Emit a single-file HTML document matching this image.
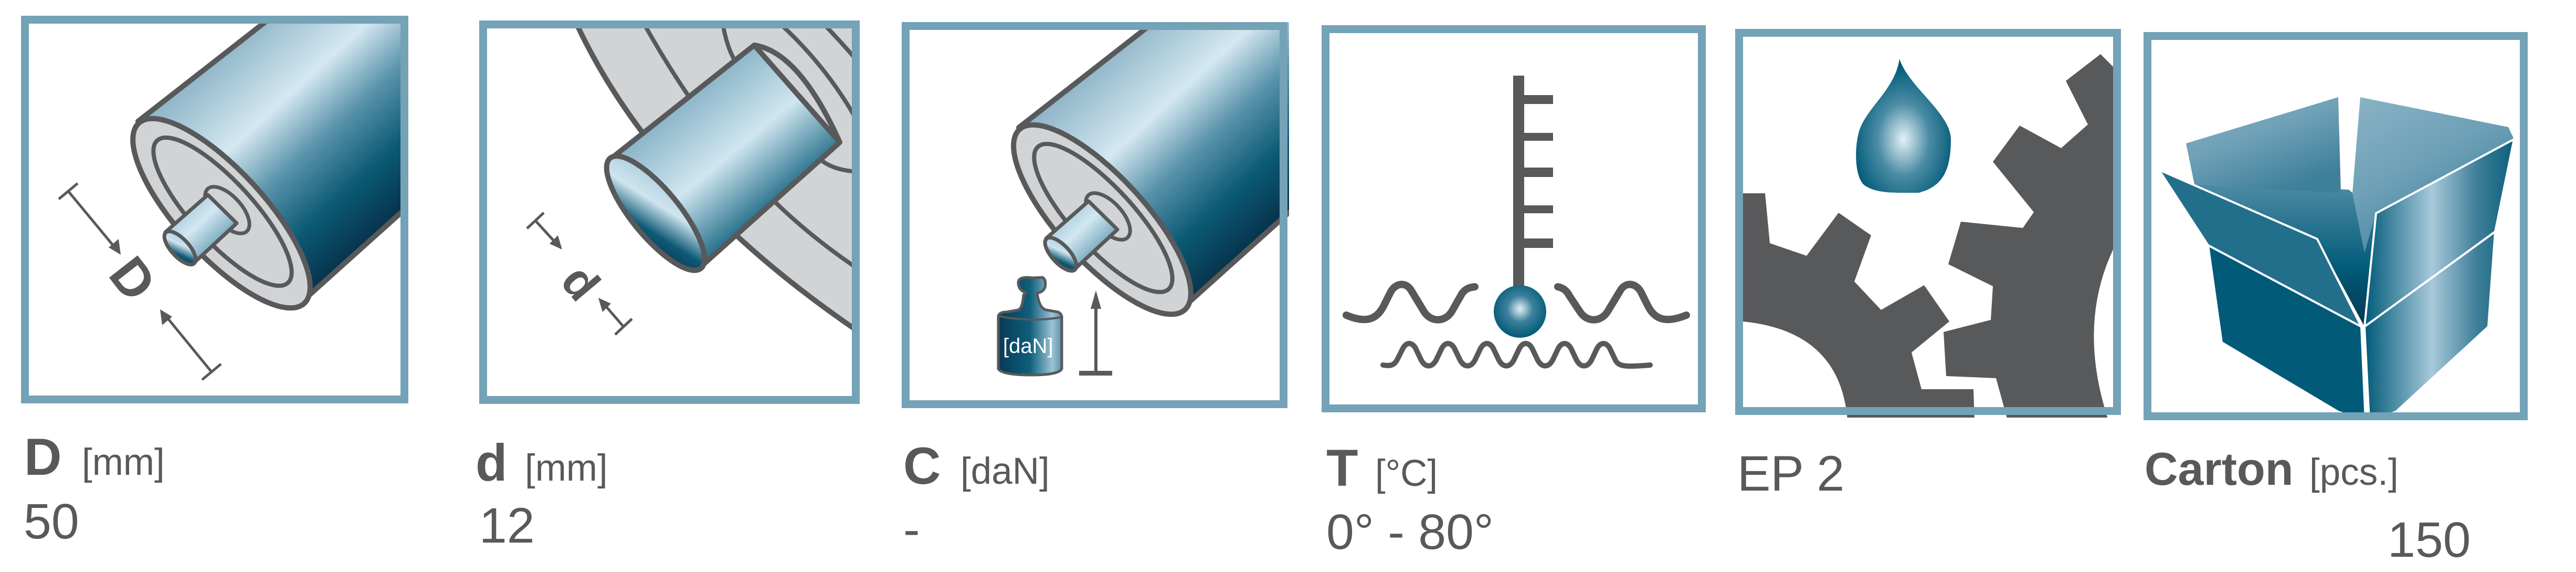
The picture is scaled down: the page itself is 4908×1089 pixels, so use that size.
<!DOCTYPE html>
<html><head><meta charset="utf-8"><style>
html,body{margin:0;padding:0;background:#fff;}
svg{display:block;}
text{font-family:"Liberation Sans",sans-serif;fill:#58595b;}
</style></head><body>
<svg width="4908" height="1089" viewBox="0 0 4908 1089" xmlns="http://www.w3.org/2000/svg">
<defs>
<linearGradient id="body" gradientUnits="userSpaceOnUse" x1="225" y1="205" x2="540" y2="548">
<stop offset="0" stop-color="#8db4c7"/><stop offset="0.33" stop-color="#d4e8f1"/><stop offset="0.55" stop-color="#5a93ab"/><stop offset="0.78" stop-color="#0b5a75"/><stop offset="1" stop-color="#07314a"/></linearGradient>
<linearGradient id="shaft" x1="0" y1="0" x2="1" y2="1">
<stop offset="0" stop-color="#7fb0c6"/><stop offset="0.45" stop-color="#d2e7f2"/><stop offset="1" stop-color="#1f6d89"/></linearGradient>
<linearGradient id="hole" x1="0" y1="0" x2="1" y2="1">
<stop offset="0" stop-color="#9fc6d8"/><stop offset="0.4" stop-color="#cfe4ef"/><stop offset="0.7" stop-color="#0f5a76"/><stop offset="1" stop-color="#062f48"/></linearGradient>
<linearGradient id="sh2" gradientUnits="userSpaceOnUse" x1="390" y1="155" x2="560" y2="360">
<stop offset="0" stop-color="#8cb6c9"/><stop offset="0.5" stop-color="#d0e6f0"/><stop offset="1" stop-color="#1d6a86"/></linearGradient>
<linearGradient id="wt" x1="0" y1="0" x2="1" y2="0">
<stop offset="0" stop-color="#073a55"/><stop offset="0.5" stop-color="#0f5f7c"/><stop offset="0.85" stop-color="#9cc3d6"/><stop offset="1" stop-color="#5a8ea6"/></linearGradient>
<radialGradient id="ball" cx="0.5" cy="0.45" r="0.55"><stop offset="0" stop-color="#e4f1f7"/><stop offset="0.45" stop-color="#3d819c"/><stop offset="1" stop-color="#005a78"/></radialGradient>
<radialGradient id="drop" cx="0.5" cy="0.6" r="0.55"><stop offset="0" stop-color="#e4f1f7"/><stop offset="0.5" stop-color="#4a8ba4"/><stop offset="1" stop-color="#005a78"/></radialGradient>
<linearGradient id="bflap" x1="0" y1="0" x2="0.6" y2="1"><stop offset="0" stop-color="#8ab3c6"/><stop offset="0.5" stop-color="#6da0b6"/><stop offset="1" stop-color="#3e7f99"/></linearGradient>
<linearGradient id="inner" x1="0" y1="0" x2="0" y2="1"><stop offset="0" stop-color="#4d8ba5"/><stop offset="0.6" stop-color="#005a78"/><stop offset="1" stop-color="#063651"/></linearGradient>
<linearGradient id="rface" gradientUnits="userSpaceOnUse" x1="421" y1="0" x2="706" y2="0"><stop offset="0" stop-color="#005a78"/><stop offset="0.45" stop-color="#a7c9da"/><stop offset="0.75" stop-color="#3f7f99"/><stop offset="1" stop-color="#0b5f7c"/></linearGradient>
<clipPath id="c1"><rect x="0" y="0" width="738" height="738"/></clipPath>
<clipPath id="c2"><rect x="0" y="0" width="725" height="730"/></clipPath>
<clipPath id="c5"><rect x="0" y="0" width="735" height="740"/></clipPath>
<g id="roller">
<polygon points="223,201 469,9 760,-220 1100,100 735,365 540,540" fill="url(#body)" stroke="#58595b" stroke-width="10" stroke-linejoin="round"/>
<ellipse cx="382" cy="376" rx="233" ry="82" transform="rotate(47.4 382 376)" fill="#d2d3d5" stroke="#58595b" stroke-width="10"/>
<ellipse cx="384" cy="373" rx="184" ry="58" transform="rotate(47.4 384 373)" fill="none" stroke="#58595b" stroke-width="8"/>
<ellipse cx="393" cy="370" rx="55" ry="27" transform="rotate(47.4 393 370)" fill="#d2d3d5" stroke="#58595b" stroke-width="7"/>
<polygon points="275,412 356,341 411,395 330,470" fill="url(#shaft)" stroke="#58595b" stroke-width="7" stroke-linejoin="round"/>
<ellipse cx="303" cy="442" rx="40" ry="17" transform="rotate(47.4 303 442)" fill="url(#hole)" stroke="#58595b" stroke-width="7"/>
</g>
<g id="arrowhead"><polygon points="0,0 -12,-30 12,-30" fill="#58595b"/></g>
</defs>

<!-- Box 1 -->
<g transform="translate(40,30)">
<g clip-path="url(#c1)"><use href="#roller"/></g>
<g stroke="#58595b" stroke-width="5" fill="none">
<line x1="90" y1="334" x2="182" y2="445"/><line x1="72" y1="349" x2="108" y2="319"/>
<line x1="273" y1="568" x2="363" y2="678"/><line x1="345" y1="693" x2="381" y2="663"/>
</g>
<polygon points="190,455 167,441 186,425" fill="#58595b"/>
<polygon points="265,559 288,573 269,589" fill="#58595b"/>
<text x="0" y="0" font-size="100" font-weight="bold" transform="translate(213,498) rotate(52) translate(-34,36)">D</text>
<rect x="7.5" y="7.5" width="723" height="723" fill="none" stroke="#74a2b7" stroke-width="15"/>
</g>

<!-- Box 2 -->
<g transform="translate(913,39)">
<g clip-path="url(#c2)">
<path d="M178,-10 Q330,330 740,604 L740,-10 Z" fill="#d2d3d5" stroke="#58595b" stroke-width="10"/>
<path d="M305,-10 Q420,200 562,344 Q640,420 740,485" fill="none" stroke="#58595b" stroke-width="8"/>
<path d="M462,-10 Q470,60 500,95 L640,255 Q670,290 740,288" fill="none" stroke="#58595b" stroke-width="8"/>
<path d="M640,-10 Q690,40 740,100" fill="none" stroke="#58595b" stroke-width="8"/>
<path d="M555,-10 Q660,80 725,200" fill="none" stroke="#58595b" stroke-width="8"/>
<polygon points="251,263 524,47 687,232 422,469" fill="url(#sh2)" stroke="#58595b" stroke-width="10" stroke-linejoin="round"/>
<path d="M524,47 Q610,60 687,232" fill="none" stroke="#58595b" stroke-width="10"/>
<ellipse cx="336" cy="367" rx="136" ry="45" transform="rotate(50.5 336 367)" fill="url(#hole)" stroke="#58595b" stroke-width="10"/>
</g>
<g stroke="#58595b" stroke-width="5" fill="none">
<line x1="107" y1="381" x2="150" y2="428"/><line x1="91" y1="396" x2="123" y2="366"/>
<line x1="237" y1="539" x2="275" y2="583"/><line x1="259" y1="598" x2="291" y2="568"/>
</g>
<polygon points="158,436 134,425 150,409" fill="#58595b"/>
<polygon points="227,528 251,539 235,555" fill="#58595b"/>
<text x="0" y="0" font-size="90" font-weight="bold" transform="translate(194,498) rotate(50) translate(-27,32)">d</text>
<rect x="7.5" y="7.5" width="710" height="715" fill="none" stroke="#74a2b7" stroke-width="15"/>
</g>

<!-- Box 3 -->
<g transform="translate(1718,42)">
<g clip-path="url(#c1)"><use href="#roller"/></g>
<path d="M184,560 Q186,552 200,552 L222,548 Q230,545 232,520 L236,515 Q222,510 222,496 Q222,486 240,486 L250,487 L268,486 Q276,490 273,505 Q270,514 258,516 Q262,545 275,548 L298,552 Q306,556 305,565 L305,660 Q300,672 245,672 Q190,672 184,660 Z" fill="url(#wt)" stroke="#58595b" stroke-width="5"/>
<path d="M186,560 Q245,572 304,562" fill="none" stroke="#58595b" stroke-width="4"/>
<text x="193" y="630" font-size="40" style="fill:#fff">[daN]</text>
<line x1="370" y1="668" x2="370" y2="540" stroke="#58595b" stroke-width="6"/>
<polygon points="370,511 360,546 380,546" fill="#58595b"/>
<rect x="338" y="664" width="63" height="9" fill="#58595b"/>
<rect x="7.5" y="7.5" width="720" height="720" fill="none" stroke="#74a2b7" stroke-width="15"/>
</g>

<!-- Box 4 -->
<g transform="translate(2518,48)">
<rect x="365" y="96" width="21" height="410" fill="#58595b"/>
<rect x="386" y="133" width="55" height="17" fill="#58595b"/>
<rect x="386" y="205" width="55" height="15" fill="#58595b"/>
<rect x="386" y="271" width="55" height="18" fill="#58595b"/>
<rect x="386" y="343" width="55" height="15" fill="#58595b"/>
<rect x="386" y="406" width="55" height="18" fill="#58595b"/>
<circle cx="378" cy="545" r="50" fill="url(#ball)"/>
<g fill="none" stroke="#58595b" stroke-width="14" stroke-linecap="round">
<path d="M47,552 C85,568 105,560 118,535 L132,507 C142,490 162,488 172,507 L195,545 C208,566 235,566 248,545 L268,510 C276,500 284,499 292,498"/>
<path d="M450,498 C460,500 467,505 472,515 L492,545 C505,566 532,566 545,545 L568,507 C578,488 598,490 608,507 L622,535 C635,560 655,568 695,552"/>
<path d="M117,647 C135,650 140,645 145,635 L155,615 C162,603 172,603 179,615 L190,638 C198,652 210,652 218,638 L229,615 C236,603 246,603 253,615 L264,638 C272,652 284,652 292,638 L303,615 C310,603 320,603 327,615 L338,638 C346,652 358,652 366,638 L377,615 C384,603 394,603 401,615 L412,638 C420,652 432,652 440,638 L451,615 C458,603 468,603 475,615 L486,638 C494,652 506,652 514,638 L525,615 C532,603 542,603 549,615 L560,638 C566,650 580,651 626,647" stroke-width="10"/>
</g>
<rect x="7.5" y="7.5" width="717" height="722" fill="none" stroke="#74a2b7" stroke-width="15"/>
</g>

<!-- Box 5 -->
<g transform="translate(3306,55)">
<path d="M313,57 C305,115 250,150 236,195 C226,230 228,290 250,300 C270,312 300,312 320,312 L350,312 C395,300 411,270 411,210 C410,160 330,110 313,57 Z" fill="url(#drop)"/>
<g clip-path="url(#c5)">
<path d="M14,313 L57,313 L66,408 L136,432 L197,350 L259,393 L227,481 L278,535 L360,488 L408,557 L336,616 L355,686 L454,686 L456,745 L214,745 Q200,575 14,557 Z" fill="#58595b"/>
<path d="M696,48 L724,76 L724,412 Q650,560 711,745 L519,745 L497,665 L402,661 L397,577 L487,554 L491,490 L406,448 L430,367 L548,379 L569,349 L491,253 L542,184 L621,227 L672,182 L630,99 Z" fill="#58595b"/>
</g>
<rect x="7.5" y="7.5" width="720" height="720" fill="none" stroke="#74a2b7" stroke-width="15"/>
</g>

<!-- Box 6 -->
<g transform="translate(4084,61)">
<polygon points="97,290 391,300 443,345 421,561 331,394" fill="url(#inner)"/>
<polygon points="81,212 371,124 376,307 97,290" fill="url(#bflap)"/>
<polygon points="413,124 695,181 706,204 443,345 421,420 398,307" fill="url(#bflap)"/>
<polygon points="29,262 331,394 415,561 123,406" fill="#226f8b" stroke="#fff" stroke-width="4" stroke-linejoin="round"/>
<polygon points="123,406 415,561 423,740 371,723 149,591" fill="#005a78" stroke="#fff" stroke-width="4" stroke-linejoin="round"/>
<polygon points="443,345 706,204 670,380 421,561" fill="url(#rface)" stroke="#fff" stroke-width="4" stroke-linejoin="round"/>
<polygon points="421,561 670,380 657,561 481,723 430,740" fill="url(#rface)" stroke="#fff" stroke-width="4" stroke-linejoin="round"/>
<rect x="7.5" y="7.5" width="717" height="724" fill="none" stroke="#74a2b7" stroke-width="15"/>
</g>

<!-- Labels -->
<text x="46" y="904" font-size="99" font-weight="bold">D</text>
<text x="156" y="904" font-size="71">[mm]</text>
<text x="45" y="1025" font-size="95">50</text>

<text x="906" y="915" font-size="99" font-weight="bold">d</text>
<text x="1000" y="915" font-size="71">[mm]</text>
<text x="913" y="1033" font-size="95">12</text>

<text x="1721" y="921" font-size="99" font-weight="bold">C</text>
<text x="1830" y="921" font-size="71">[daN]</text>
<text x="1721" y="1040" font-size="95">-</text>

<text x="2527" y="925" font-size="99" font-weight="bold">T</text>
<text x="2620" y="925" font-size="71">[°C]</text>
<text x="2527" y="1045" font-size="95">0° - 80°</text>

<text x="3310" y="934" font-size="95">EP 2</text>

<text x="4086" y="923" font-size="88" font-weight="bold">Carton</text>
<text x="4400" y="923" font-size="71">[pcs.]</text>
<text x="4549" y="1060" font-size="95">150</text>
</svg>
</body></html>
